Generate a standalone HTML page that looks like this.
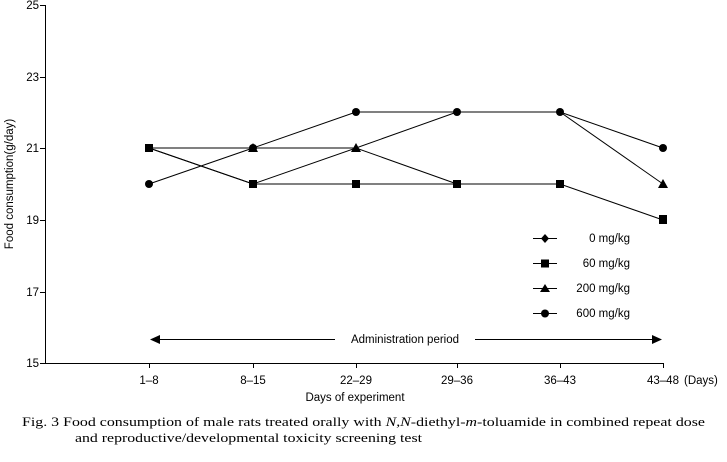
<!DOCTYPE html><html><head><style>body{margin:0;background:#fff}svg{display:block}text{font-family:"Liberation Sans",sans-serif;font-size:11.5px;fill:#000}.s{font-family:"Liberation Serif",serif;font-size:13px}</style></head><body>
<svg width="727" height="462" viewBox="0 0 727 462">
<g stroke="#000" stroke-width="1" fill="none">
<line x1="45.5" y1="5" x2="45.5" y2="363"/><line x1="45" y1="363.5" x2="663" y2="363.5"/>
<line x1="40" y1="5.5" x2="45" y2="5.5"/><line x1="40" y1="77.5" x2="45" y2="77.5"/><line x1="40" y1="148.5" x2="45" y2="148.5"/><line x1="40" y1="220.5" x2="45" y2="220.5"/><line x1="40" y1="292.5" x2="45" y2="292.5"/><line x1="40" y1="363.5" x2="45" y2="363.5"/>
<line x1="149.5" y1="363" x2="149.5" y2="368"/><line x1="253.5" y1="363" x2="253.5" y2="368"/><line x1="356.5" y1="363" x2="356.5" y2="368"/><line x1="457.5" y1="363" x2="457.5" y2="368"/><line x1="560.5" y1="363" x2="560.5" y2="368"/><line x1="663.5" y1="363" x2="663.5" y2="368"/>
<polyline points="149,184 253,148 356,112 457,112 560,112 663,148"/>
<polyline points="149,148 253,184 356,184 457,184 560,184 663,220"/>
<polyline points="149,148 253,148 356,148 457,112 560,112 663,184"/>
<polyline points="149,148 253,184 356,148 457,184"/>
<line x1="155" y1="339.5" x2="656" y2="339.5"/>
<line x1="533" y1="238.5" x2="557" y2="238.5"/><line x1="533" y1="263.5" x2="557" y2="263.5"/><line x1="533" y1="288.5" x2="557" y2="288.5"/><line x1="533" y1="313.5" x2="557" y2="313.5"/>
</g>
<rect x="335" y="330" width="140" height="18" fill="#fff"/>
<polygon points="150,339.5 160,335 160,344" fill="#000"/><polygon points="662,339.5 652,335 652,344" fill="#000"/>
<g fill="#000">
<circle cx="149" cy="184" r="4"/><circle cx="253" cy="148" r="4"/><circle cx="356" cy="112" r="4"/><circle cx="457" cy="112" r="4"/><circle cx="560" cy="112" r="4"/><circle cx="663" cy="148" r="4"/>
<rect x="145" y="144" width="8" height="8"/><rect x="249" y="180" width="8" height="8"/><rect x="352" y="180" width="8" height="8"/><rect x="453" y="180" width="8" height="8"/><rect x="556" y="180" width="8" height="8"/><rect x="659" y="215" width="8" height="9"/>
<polygon points="253,143 258,152 248,152"/><polygon points="356,143 361,152 351,152"/><polygon points="663,179 668,188 658,188"/>
<polygon points="545,234 549,238.5 545,243 541,238.5"/><rect x="541" y="259.5" width="8" height="8"/><polygon points="545,284 550,292 540,292"/><circle cx="545" cy="313.5" r="4"/>
</g>
<text x="39" y="9" text-anchor="end">25</text><text x="39" y="81" text-anchor="end">23</text><text x="39" y="152" text-anchor="end">21</text><text x="39" y="224" text-anchor="end">19</text><text x="39" y="296" text-anchor="end">17</text><text x="39" y="367" text-anchor="end">15</text>
<text x="149" y="384" text-anchor="middle">1–8</text><text x="253" y="384" text-anchor="middle">8–15</text><text x="356" y="384" text-anchor="middle">22–29</text><text x="457" y="384" text-anchor="middle">29–36</text><text x="560" y="384" text-anchor="middle">36–43</text><text x="663" y="384" text-anchor="middle">43–48</text><text x="684" y="384">(Days)</text>
<text x="355" y="401" text-anchor="middle">Days of experiment</text>
<text x="405" y="343" text-anchor="middle">Administration period</text>
<text transform="translate(13,184) rotate(-90)" text-anchor="middle">Food consumption(g/day)</text>
<text x="630" y="242" text-anchor="end">0 mg/kg</text><text x="630" y="267" text-anchor="end">60 mg/kg</text><text x="630" y="292" text-anchor="end">200 mg/kg</text><text x="630" y="317" text-anchor="end">600 mg/kg</text>
<text class="s" x="22" y="426" textLength="683" lengthAdjust="spacingAndGlyphs">Fig. 3  Food consumption of male rats treated orally with <tspan font-style="italic">N,N</tspan>-diethyl-<tspan font-style="italic">m</tspan>-toluamide in combined repeat dose</text>
<text class="s" x="75" y="442" textLength="347" lengthAdjust="spacingAndGlyphs">and reproductive/developmental toxicity screening test</text>
</svg></body></html>
